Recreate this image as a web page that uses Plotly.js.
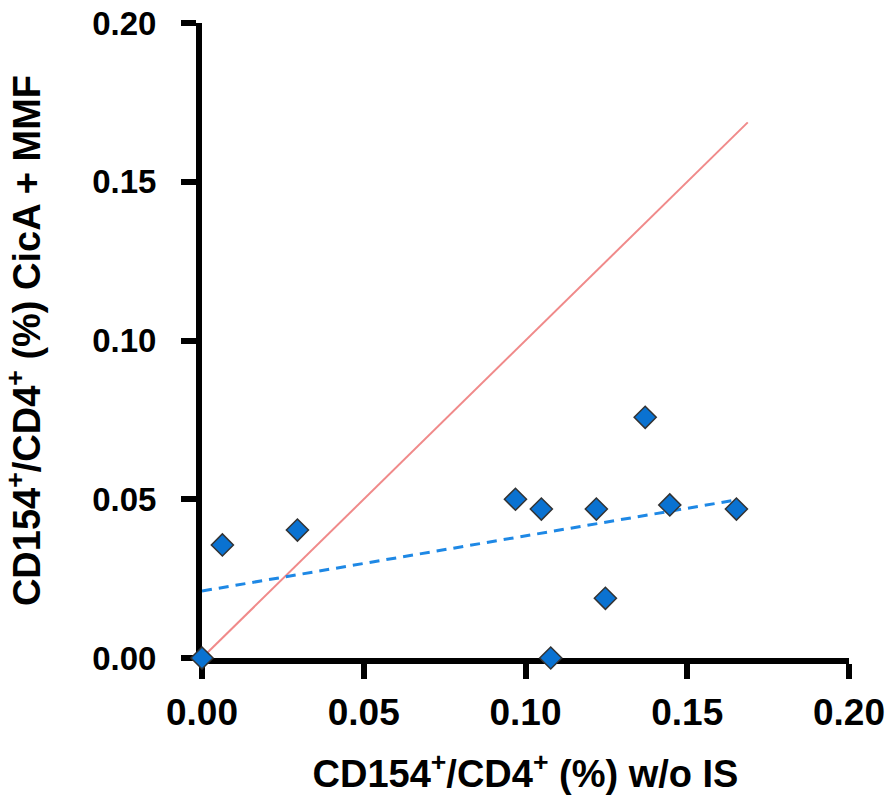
<!DOCTYPE html>
<html>
<head>
<meta charset="utf-8">
<script src="https://cdn.plot.ly/plotly-3.0.1.min.js"></script>
<style>html,body{margin:0;padding:0;background:#fff;}#chart{width:891px;height:805px;}</style>
</head>
<body>
<div id="chart"></div>
<script>
// Data
const woIS = [0.000, 0.0063, 0.0295, 0.0969, 0.1049, 0.1219, 0.1370, 0.1446, 0.1247, 0.1652, 0.1078];
const cicaMMF = [0.000, 0.0356, 0.0403, 0.0500, 0.0469, 0.0469, 0.0758, 0.0482, 0.0188, 0.0469, 0.000];
// identity line endpoints
const identityX = [0, 0.1687];
const identityY = [0, 0.1687];
// regression line endpoints
const regX = [0, 0.1652];
const regY = [0.0211, 0.0498];
const tickVals = [0, 0.05, 0.10, 0.15, 0.20];
const tickText = ["0.00", "0.05", "0.10", "0.15", "0.20"];

const font = "Liberation Sans, Arial, sans-serif";

const traces = [
  {x: identityX, y: identityY, mode: 'lines', type: 'scatter',
   line: {color: '#F08A8A', width: 2}, hoverinfo: 'skip', showlegend: false},
  {x: regX, y: regY, mode: 'lines', type: 'scatter',
   line: {color: '#1E88E5', width: 3, dash: '10px,7px'}, showlegend: false},
  {x: woIS, y: cicaMMF, mode: 'markers', type: 'scatter', cliponaxis: false,
   marker: {symbol: 'diamond', size: 17, color: '#0A72D1', line: {color: '#333333', width: 1.5}},
   showlegend: false}
];

const axisCommon = {
  range: [0, 0.2], showgrid: false, zeroline: false, showline: true, layer: 'below traces',
  linecolor: '#000', linewidth: 6, ticks: 'outside', ticklen: 15, tickwidth: 6,
  tickcolor: '#000', tickvals: tickVals, ticktext: tickText, fixedrange: true
};

const layout = {
  width: 891, height: 805,
  margin: {l: 202, r: 42, t: 23, b: 147},
  paper_bgcolor: '#fff', plot_bgcolor: '#fff',
  showlegend: false,
  xaxis: Object.assign({}, axisCommon, {
    tickfont: {family: font, size: 37, color: '#000', weight: 'bold'},
    ticklabelstandoff: 2,
    title: {text: 'CD154<sup>+</sup>/CD4<sup>+</sup> (%) w/o IS',
            font: {family: font, size: 38, color: '#000', weight: 'bold'}, standoff: 30}
  }),
  yaxis: Object.assign({}, axisCommon, {
    tickfont: {family: font, size: 33, color: '#000', weight: 'bold'},
    ticklabelstandoff: 18,
    title: {text: 'CD154<sup>+</sup>/CD4<sup>+</sup> (%) CicA + MMF',
            font: {family: font, size: 38, color: '#000', weight: 'bold'}, standoff: 42}
  })
};

Plotly.newPlot('chart', traces, layout, {displayModeBar: false, staticPlot: true});
</script>
</body>
</html>
